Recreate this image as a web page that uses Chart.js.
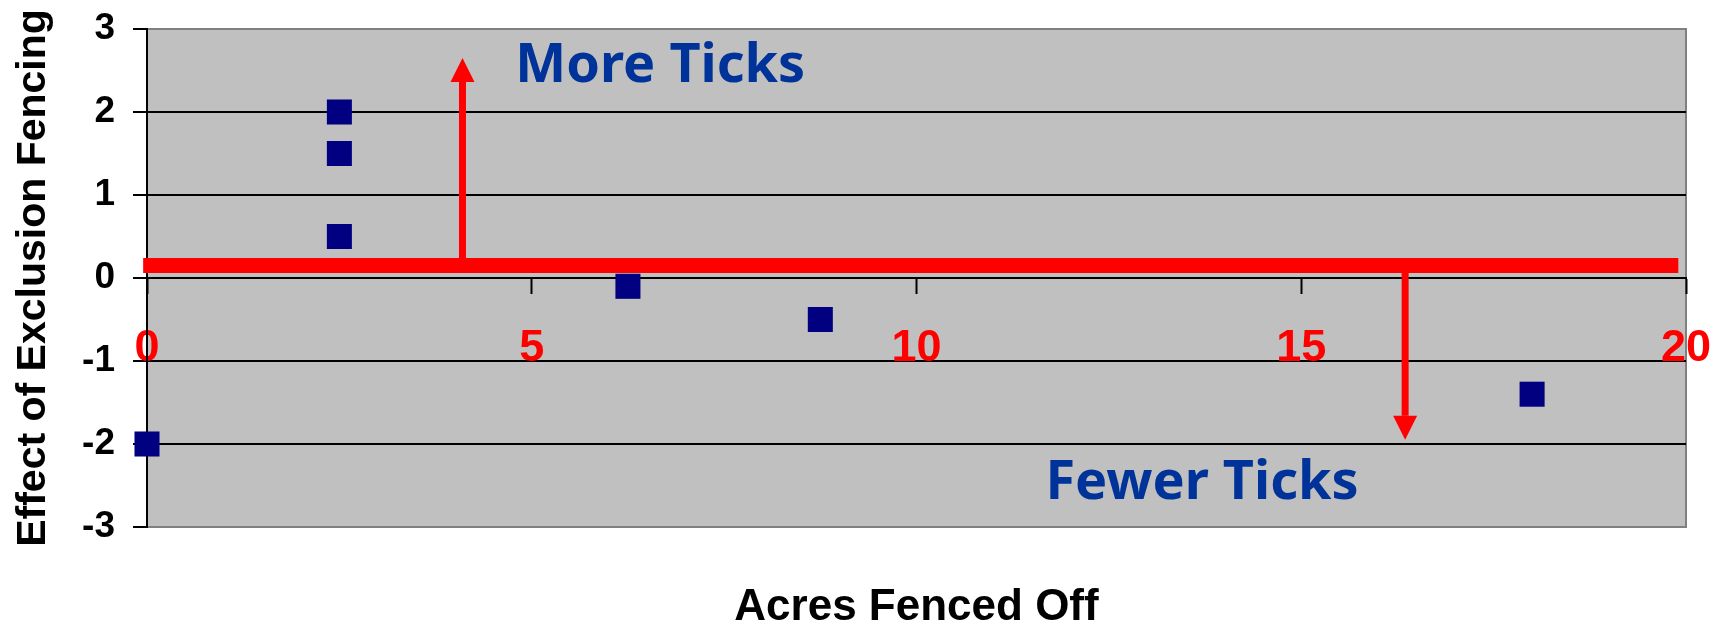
<!DOCTYPE html>
<html>
<head>
<meta charset="utf-8">
<title>Acres Fenced Off</title>
<script src="https://cdn.jsdelivr.net/npm/chart.js@4"></script>
<style>
  html, body { margin: 0; padding: 0; background: #fff; }
</style>
</head>
<body>
<canvas id="chart" width="1725" height="630"></canvas>
<script>
// acres fenced off vs. effect on tick counts
const acres = [0, 2.5, 2.5, 2.5, 6.25, 8.75, 18];
const effect = [-2, 2, 1.5, 0.5, -0.1, -0.5, -1.4];
const xTicks = [0, 5, 10, 15, 20];
const yTicks = [-3, -2, -1, 0, 1, 2, 3];

const ARIAL = "'Liberation Sans', Arial, sans-serif";

// grey plot area with a thin grey frame
const plotFrame = {
  id: 'plotFrame',
  beforeDraw(chart) {
    const { ctx, chartArea: a } = chart;
    ctx.save();
    ctx.fillStyle = '#c0c0c0';
    ctx.fillRect(a.left, a.top, a.right - a.left, a.bottom - a.top);
    ctx.strokeStyle = '#808080';
    ctx.lineWidth = 2;
    ctx.strokeRect(a.left, a.top, a.right - a.left, a.bottom - a.top);
    ctx.restore();
  }
};

// red divider line, the two arrows and their captions
const tickArrows = {
  id: 'tickArrows',
  afterDatasetsDraw(chart) {
    const { ctx } = chart;
    const xs = chart.scales.x, ys = chart.scales.y;
    const level = 0.15;
    const yl = ys.getPixelForValue(level);

    ctx.save();
    ctx.strokeStyle = '#ff0000';
    ctx.fillStyle = '#ff0000';
    ctx.lineWidth = 15;
    ctx.beginPath();
    ctx.moveTo(xs.getPixelForValue(-0.05), yl);
    ctx.lineTo(xs.getPixelForValue(19.9), yl);
    ctx.stroke();

    function arrow(xv, tipv) {
      const x = xs.getPixelForValue(xv);
      const tip = ys.getPixelForValue(tipv);
      const dir = Math.sign(tip - yl);
      const head = 24;
      ctx.lineWidth = 7;
      ctx.beginPath();
      ctx.moveTo(x, yl);
      ctx.lineTo(x, tip - dir * head);
      ctx.stroke();
      ctx.beginPath();
      ctx.moveTo(x, tip);
      ctx.lineTo(x - 12, tip - dir * head);
      ctx.lineTo(x + 12, tip - dir * head);
      ctx.closePath();
      ctx.fill();
    }
    arrow(4.1, 2.65);
    arrow(16.35, -1.95);

    ctx.fillStyle = '#003399';
    ctx.font = "bold 54px 'Noto Sans', sans-serif";
    ctx.textAlign = 'center';
    ctx.textBaseline = 'alphabetic';
    ctx.fillText('More Ticks', xs.getPixelForValue(6.67), ys.getPixelForValue(2.36));
    ctx.fillText('Fewer Ticks', xs.getPixelForValue(13.71), ys.getPixelForValue(-2.66));
    ctx.restore();
  }
};

new Chart(document.getElementById('chart'), {
  type: 'scatter',
  data: {
    datasets: [{
      data: acres.map((x, i) => ({ x: x, y: effect[i] })),
      pointStyle: 'rect',
      pointRadius: 17.7,
      pointHoverRadius: 17.7,
      backgroundColor: '#000080',
      borderWidth: 0,
      clip: false
    }]
  },
  options: {
    responsive: false,
    animation: false,
    devicePixelRatio: 1,
    layout: { padding: { top: 29, right: 39, bottom: 0, left: 0 } },
    plugins: {
      legend: { display: false },
      tooltip: { enabled: false }
    },
    scales: {
      x: {
        type: 'linear',
        min: 0,
        max: 20,
        position: { y: 0 },
        afterBuildTicks: s => { s.ticks = xTicks.map(v => ({ value: v })); },
        afterFit: s => { s.paddingLeft = 0; s.paddingRight = 0; },
        ticks: {
          color: '#ff0000',
          font: { family: ARIAL, size: 45, weight: 'bold' },
          padding: 29,
          maxRotation: 0,
          autoSkip: false
        },
        grid: { drawOnChartArea: false, drawTicks: true, tickLength: 15, tickColor: '#000', tickWidth: 2 },
        border: { display: true, color: '#000', width: 2 }
      },
      x2: {
        type: 'linear',
        position: 'bottom',
        min: 0,
        max: 20,
        ticks: { display: false },
        grid: { display: false },
        border: { display: false },
        title: {
          display: true,
          text: 'Acres Fenced Off',
          color: '#000',
          font: { family: ARIAL, size: 44, weight: 'bold', lineHeight: 1 },
          padding: { top: 0, bottom: 0 }
        },
        afterFit: s => { s.height = 103; s.paddingLeft = 0; s.paddingRight = 0; }
      },
      y: {
        type: 'linear',
        min: -3,
        max: 3,
        position: 'left',
        afterBuildTicks: s => { s.ticks = yTicks.map(v => ({ value: v })); },
        ticks: {
          color: '#000',
          font: { family: ARIAL, size: 37, weight: 'bold' },
          padding: 18
        },
        grid: {
          color: c => (c.tick && Math.abs(c.tick.value) === 3) ? '#808080' : '#000',
          lineWidth: 2,
          tickLength: 14,
          tickColor: '#000',
          tickWidth: 2
        },
        border: { color: '#000', width: 2 },
        title: {
          display: true,
          text: 'Effect of Exclusion Fencing',
          color: '#000',
          font: { family: ARIAL, size: 41, weight: 'bold' },
          padding: { top: 9, bottom: 0 }
        },
        afterFit: s => { s.width = 147; s.paddingTop = 0; s.paddingBottom = 0; }
      }
    }
  },
  plugins: [plotFrame, tickArrows]
});
</script>
</body>
</html>
